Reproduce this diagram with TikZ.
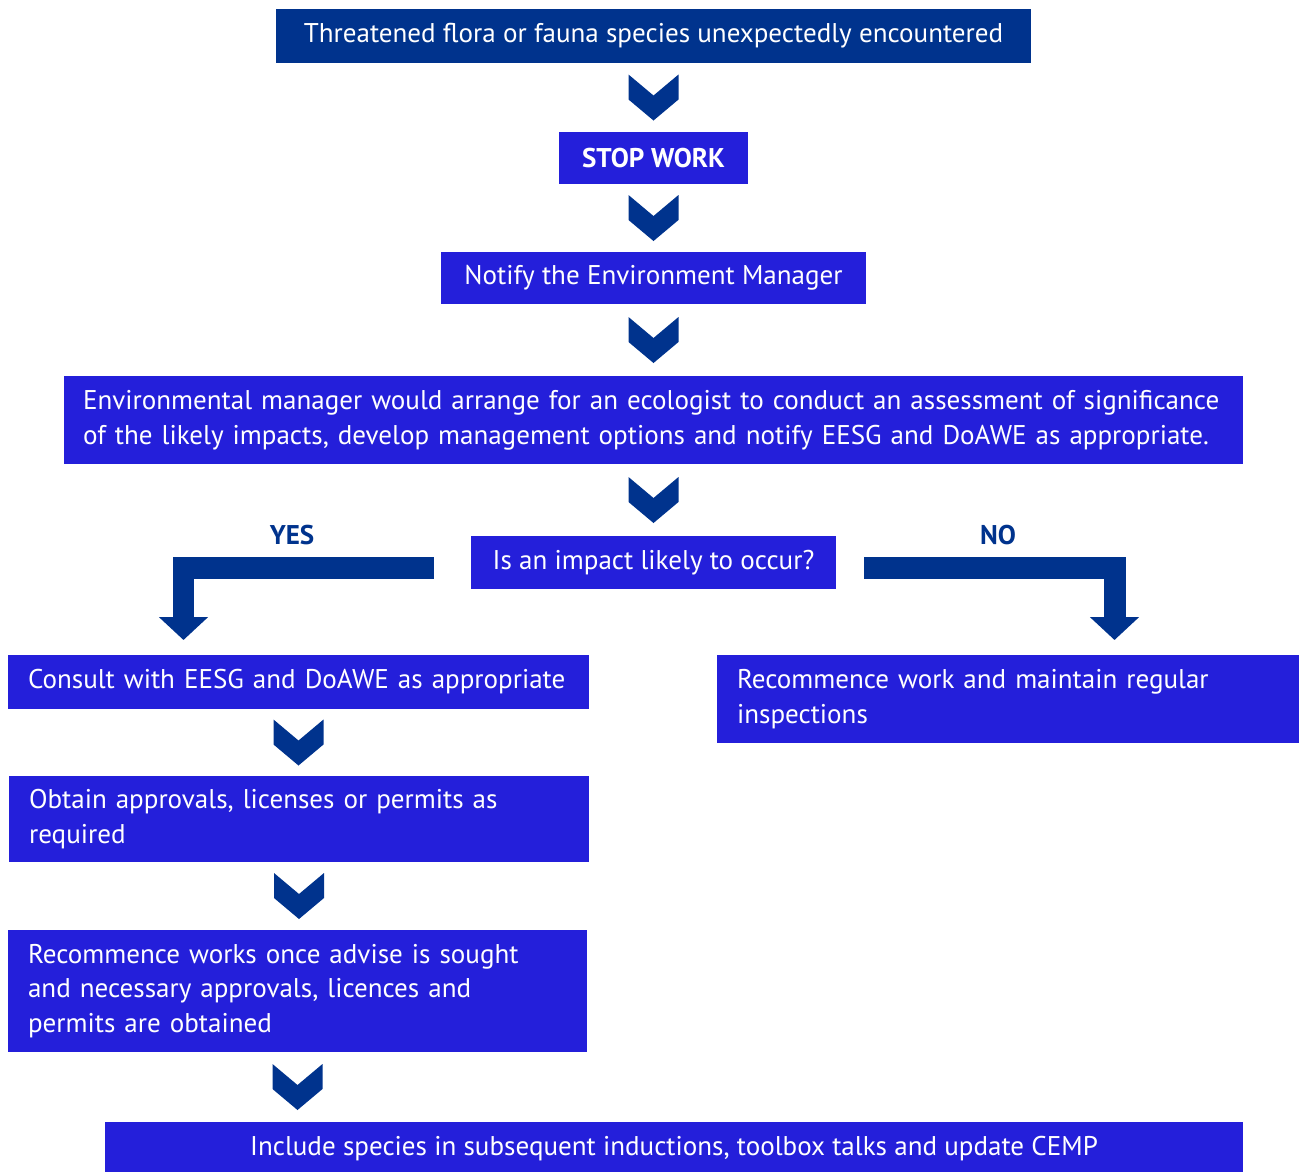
\documentclass[tikz,border=0pt]{standalone}
\usepackage{fontspec}
\setmainfont{PT Sans}
\usepackage{tikz}
\usetikzlibrary{shapes,arrows,positioning,calc,arrows.meta}
\definecolor{navy}{RGB}{0,51,141}
\definecolor{boxblue}{RGB}{36,31,218}
\tikzstyle{flowbox} = [rectangle, fill=boxblue, text=white, inner sep=0pt, font=\fontsize{15.4}{19.8}\selectfont]
\tikzstyle{leftbox} = [flowbox, align=left]
\tikzstyle{elbow} = [navy, line width=0.44cm, -{Triangle[width=0.96cm,length=0.46cm]}]
\newcommand{\chevron}[2]{\fill[navy] ($(#1.south)!0.5!(#1.south |- #2.north)$) ++(-25,-23) -- ++(25,21) -- ++(25,-21) -- ++(0,25) -- ++(-25,21) -- ++(-25,-21) -- cycle;}

\begin{document}
\begin{tikzpicture}[x=0.02cm, y=-0.02cm]
    \useasboundingbox (0,0) rectangle (1299,1171);
    % Main column
    \node[flowbox, fill=navy, minimum width=15.1cm, minimum height=1.08cm] (threat) at (653.5,36) {Threatened flora or fauna species unexpectedly encountered};
    \node[flowbox, minimum width=3.78cm, minimum height=1.04cm, font=\fontsize{15.4}{19.8}\selectfont\bfseries] (stop) at (653.5,158) {STOP WORK};
    \node[flowbox, minimum width=8.5cm, minimum height=1.04cm] (notify) at (653.5,278) {Notify the Environment Manager};
    \node[leftbox, minimum width=23.58cm, minimum height=1.76cm, text width=22.82cm] (assess) at (653.5,420) {Environmental manager would arrange for an ecologist to conduct an assessment of significance\\of the likely impacts, develop management options and notify EESG and DoAWE as appropriate.};
    \node[flowbox, minimum width=7.3cm, minimum height=1.06cm] (question) at (653.5,562.5) {Is an impact likely to occur?};

    % Yes / No labels
    \node[font=\fontsize{15.4}{19.8}\selectfont\bfseries, text=navy] (yes) at (292,535) {YES};
    \node[font=\fontsize{15.4}{19.8}\selectfont\bfseries, text=navy] (no) at (998,535) {NO};

    % Yes branch
    \node[leftbox, minimum width=11.62cm, minimum height=1.08cm, text width=10.82cm] (consult) at (298.5,682) {Consult with EESG and DoAWE as appropriate};
    \node[leftbox, minimum width=11.6cm, minimum height=1.72cm, text width=10.8cm] (obtain) at (299,819) {Obtain approvals, licenses or permits as\\required};
    \node[leftbox, minimum width=11.58cm, minimum height=2.44cm, text width=10.78cm] (works) at (297.5,991) {Recommence works once advise is sought\\and necessary approvals, licences and\\permits are obtained};

    % No branch
    \node[leftbox, minimum width=11.64cm, minimum height=1.76cm, text width=10.84cm] (recommence) at (1008,699) {Recommence work and maintain regular\\inspections};

    % Last step
    \node[flowbox, minimum width=22.76cm, minimum height=1.08cm] (include) at (674,1149) {Include species in subsequent inductions, toolbox talks and update CEMP};

    % Chevrons
    \chevron{threat}{stop}
    \chevron{stop}{notify}
    \chevron{notify}{assess}
    \chevron{assess}{question}
    \chevron{consult}{obtain}
    \chevron{obtain}{works}
    \chevron{works}{include}

    % Elbow arrows
    \coordinate (yestip) at (183.5,640);
    \coordinate (notip) at (1114.5,640);
    \draw[elbow] ($(question.west)+(-37,5)$) -| (yestip);
    \draw[elbow] ($(question.east)+(28,5)$) -| (notip);
\end{tikzpicture}
\end{document}
